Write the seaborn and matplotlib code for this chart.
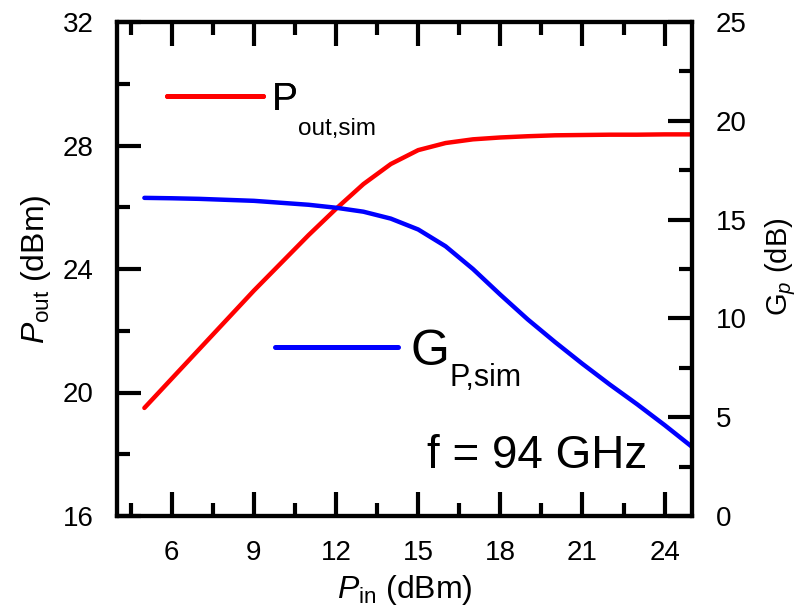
import numpy as np
import pandas as pd
import matplotlib
matplotlib.use("Agg")
import matplotlib.pyplot as plt
import seaborn as sns
from matplotlib.lines import Line2D
from matplotlib.ticker import MultipleLocator

pin = [5, 6, 7, 8, 9, 10, 11, 12, 13, 14, 15, 16, 17, 18, 19, 20, 21, 22, 23, 24, 25]
pout = [19.5, 20.45, 21.4, 22.35, 23.3, 24.2, 25.1, 25.95, 26.75, 27.4, 27.85, 28.08, 28.2,
        28.26, 28.3, 28.33, 28.34, 28.35, 28.35, 28.36, 28.36]
gp = [16.1, 16.08, 16.05, 16.0, 15.95, 15.85, 15.75, 15.6, 15.4, 15.05, 14.5, 13.65, 12.5,
      11.2, 9.95, 8.8, 7.7, 6.65, 5.65, 4.6, 3.5]

df = pd.DataFrame({"pin": pin, "pout": pout, "gp": gp})

sns.set_theme(style="white")
plt.rcParams["font.family"] = ["Liberation Sans", "DejaVu Sans"]
plt.rcParams["mathtext.fontset"] = "custom"
plt.rcParams["mathtext.rm"] = "Liberation Sans"
plt.rcParams["mathtext.it"] = "Liberation Sans:italic"
plt.rcParams["mathtext.bf"] = "Liberation Sans:bold"
plt.rcParams["text.color"] = "black"
plt.rcParams["axes.labelcolor"] = "black"
plt.rcParams["xtick.color"] = "black"
plt.rcParams["ytick.color"] = "black"

fig = plt.figure(figsize=(8.07, 6.14), dpi=100)
ax = fig.add_axes([117 / 807, 1 - 516 / 614, 575 / 807, 494 / 614])
ax2 = ax.twinx()

sns.lineplot(data=df, x="pin", y="pout", ax=ax, color="#ff0000", linewidth=3.2)
sns.lineplot(data=df, x="pin", y="gp", ax=ax2, color="#0000ff", linewidth=3.2)

ax.set_xlim(4, 25)
ax.set_ylim(16, 32)
ax2.set_ylim(0, 25)

ax.xaxis.set_major_locator(MultipleLocator(3))
ax.xaxis.set_minor_locator(MultipleLocator(1.5))
ax.yaxis.set_major_locator(MultipleLocator(4))
ax.yaxis.set_minor_locator(MultipleLocator(2))
ax2.yaxis.set_major_locator(MultipleLocator(5))
ax2.yaxis.set_minor_locator(MultipleLocator(2.5))

for a in (ax, ax2):
    for s in a.spines.values():
        s.set_linewidth(3)
        s.set_color("black")

MAJ, MIN = 17, 9.5
ax.tick_params(axis="x", which="both", direction="in", top=True, bottom=True,
               width=3, labelsize=20, pad=17)
ax.tick_params(axis="x", which="major", length=MAJ)
ax.tick_params(axis="x", which="minor", length=MIN)
ax.tick_params(axis="y", which="both", direction="in", left=True, right=False,
               width=3, labelsize=20, pad=17)
ax.tick_params(axis="y", which="major", length=MAJ)
ax.tick_params(axis="y", which="minor", length=MIN)
ax2.tick_params(axis="y", which="both", direction="in", right=True, left=False,
                width=3, labelsize=20, pad=17)
ax2.tick_params(axis="y", which="major", length=MAJ)
ax2.tick_params(axis="y", which="minor", length=MIN)

ax.set_xlabel(r"$P_{\mathrm{in}}$ (dBm)", fontsize=23)
ax.xaxis.set_label_coords(0.5, -0.115)
ax.set_ylabel(r"$P_{\mathrm{out}}$ (dBm)", fontsize=23)
ax.yaxis.set_label_coords(-0.112, 0.5)
ax2.set_ylabel(r"G$_{p}$ (dB)", fontsize=21, rotation=90, va="top")
ax2.yaxis.set_label_coords(1.1235, 0.504)

h1 = Line2D([], [], color="#ff0000", linewidth=3.6)
h2 = Line2D([], [], color="#0000ff", linewidth=3.6)
leg1 = ax.legend([h1], ["P"], loc="center left",
                 bbox_to_anchor=(0.087, 0.842), frameon=False, fontsize=28,
                 handlelength=2.46, handletextpad=0.23, borderaxespad=0, borderpad=0)
ax.add_artist(leg1)
leg2 = ax2.legend([h2], ["G"], loc="center left",
                  bbox_to_anchor=(0.275, 0.332), frameon=False, fontsize=36,
                  handlelength=2.46, handletextpad=0.25, borderaxespad=0, borderpad=0)

ax.annotate("out,sim", xy=(1.0, 0.0), xycoords=leg1.get_texts()[0],
            xytext=(0, -12), textcoords="offset points", fontsize=17.5,
            ha="left", va="baseline", zorder=20)
ax2.annotate("P,sim", xy=(1.0, 0.0), xycoords=leg2.get_texts()[0],
             xytext=(0, -8), textcoords="offset points", fontsize=22,
             ha="left", va="baseline", zorder=20)

ax.text(0.922, 0.097, "f = 94 GHz", transform=ax.transAxes, fontsize=33,
        ha="right", va="baseline")

fig.savefig("out.png", dpi=100)
